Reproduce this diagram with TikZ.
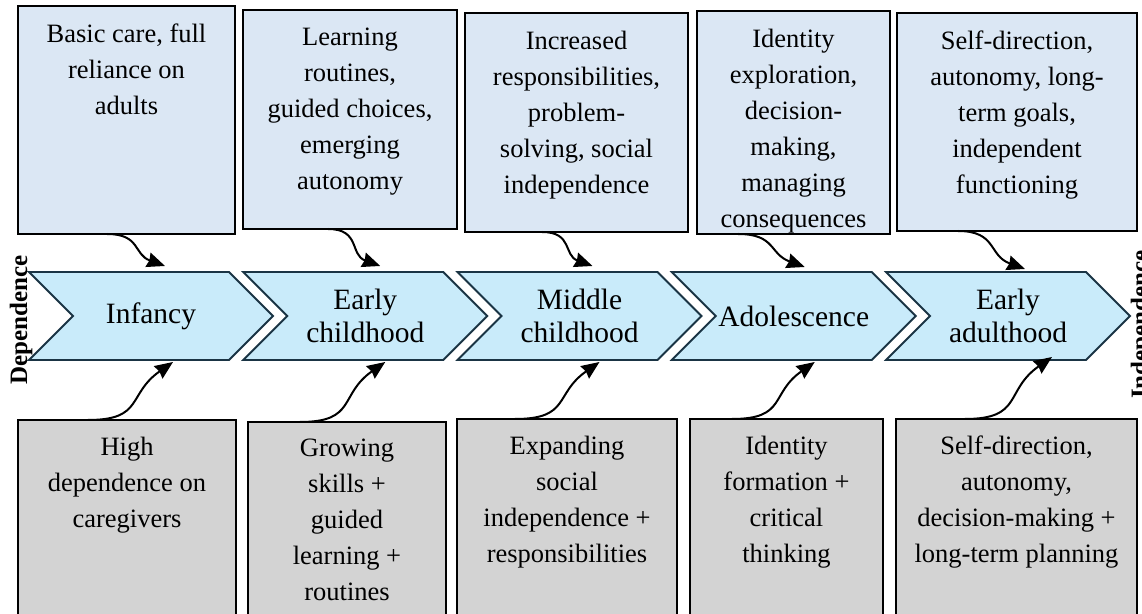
\documentclass[tikz,border=0pt]{standalone}
\usepackage{fontspec}
\setmainfont{Liberation Serif}
\usepackage{xcolor}
\usepackage{tikz}
\usetikzlibrary{calc,arrows.meta,shapes.symbols}
\definecolor{topfill}{HTML}{DBE7F4}
\definecolor{botfill}{HTML}{D3D3D3}
\definecolor{stagefill}{HTML}{C9EBFA}
\definecolor{stageline}{HTML}{1A3444}
\tikzset{
  topbox/.style={draw=black, fill=topfill, line width=2.2pt, anchor=north west, inner sep=0pt, outer sep=0pt},
  botbox/.style={draw=black, fill=botfill, line width=2.2pt, anchor=north west, inner sep=0pt, outer sep=0pt, minimum height=215pt},
  boxtxt/.style={anchor=north, align=center, inner sep=0pt, font=\fontsize{26.5}{36}\selectfont},
  stage/.style={signal, signal from=west, signal to=east, draw=stageline, fill=stagefill, line width=1.8pt,
    minimum width=244pt, minimum height=88pt, inner sep=0pt, outer sep=0pt, align=center,
    font=\fontsize{29.5}{33}\selectfont},
  side/.style={rotate=90, font=\bfseries\fontsize{25}{30}\selectfont, inner sep=0pt},
  flow/.style={draw=black, line width=2pt, -{Stealth[length=18pt,width=15pt,inset=1.5pt]}}
}
\begin{document}
\begin{tikzpicture}[x=1pt,y=1pt]
  \useasboundingbox (0,0) rectangle (1142,613);
  \clip (0,0) rectangle (1142,613);

  \node[topbox, minimum width=217pt, minimum height=228pt] (t1) at (18,607) {};
  \node[topbox, minimum width=214pt, minimum height=219pt] (t2) at (243,603) {};
  \node[topbox, minimum width=223pt, minimum height=219pt] (t3) at (465,600) {};
  \node[topbox, minimum width=193pt, minimum height=223pt] (t4) at (697,602) {};
  \node[topbox, minimum width=240pt, minimum height=218pt] (t5) at (897,600) {};

  \node[boxtxt] (t1txt) at ([yshift=-18pt]t1.north) {Basic care, full\\reliance on\\adults};
  \node[boxtxt] (t2txt) at ([yshift=-18pt]t2.north) {Learning\\routines,\\guided choices,\\emerging\\autonomy};
  \node[boxtxt] (t3txt) at ([yshift=-18pt]t3.north) {Increased\\responsibilities,\\problem-\\solving, social\\independence};
  \node[boxtxt] (t4txt) at ([yshift=-18pt]t4.north) {Identity\\exploration,\\decision-\\making,\\managing\\consequences};
  \node[boxtxt] (t5txt) at ([yshift=-18pt]t5.north) {Self-direction,\\autonomy, long-\\term goals,\\independent\\functioning};

  \node[stage] (c1) at (151,297) {Infancy};
  \node[stage] (c2) at (365.25,297) {Early\\childhood};
  \node[stage] (c3) at (579.5,297) {Middle\\childhood};
  \node[stage] (c4) at (793.75,297) {Adolescence};
  \node[stage] (c5) at (1008,297) {Early\\adulthood};

  \node[botbox, minimum width=218pt] (b1) at (18,193) {};
  \node[botbox, minimum width=198pt] (b2) at (248,191) {};
  \node[botbox, minimum width=220pt] (b3) at (457,194) {};
  \node[botbox, minimum width=193pt] (b4) at (690,194) {};
  \node[botbox, minimum width=241pt] (b5) at (896,194) {};

  \node[boxtxt] (b1txt) at ([yshift=-17pt]b1.north) {High\\dependence on\\caregivers};
  \node[boxtxt] (b2txt) at ([yshift=-17pt]b2.north) {Growing\\skills +\\guided\\learning +\\routines};
  \node[boxtxt] (b3txt) at ([yshift=-17pt]b3.north) {Expanding\\social\\independence +\\responsibilities};
  \node[boxtxt] (b4txt) at ([yshift=-17pt]b4.north) {Identity\\formation +\\critical\\thinking};
  \node[boxtxt] (b5txt) at ([yshift=-17pt]b5.north) {Self-direction,\\autonomy,\\decision-making +\\long-term planning};

  \node[side] (dep) at (21,293) {Dependence};
  \node[side] (indep) at (1142,288.5) {Independence};

  \draw[flow] ([xshift=89pt]t1.south west) to[out=0,in=160,looseness=1.3] ([xshift=14pt,yshift=6pt]c1.north);
  \draw[flow] ([xshift=85pt]t2.south west) to[out=0,in=160,looseness=1.3] ([xshift=15pt,yshift=6pt]c2.north);
  \draw[flow] ([xshift=77pt]t3.south west) to[out=0,in=160,looseness=1.3] ([xshift=13pt,yshift=6pt]c3.north);
  \draw[flow] ([xshift=41pt]t4.south west) to[out=0,in=160,looseness=1.3] ([xshift=11pt,yshift=5pt]c4.north);
  \draw[flow] ([xshift=61pt]t5.south west) to[out=0,in=160,looseness=1.3] ([xshift=17pt,yshift=3pt]c5.north);

  \draw[flow] ([xshift=70pt]b1.north west) to[out=0,in=215,looseness=1.4] ([xshift=22pt,yshift=-2pt]c1.south);
  \draw[flow] ([xshift=52pt]b2.north west) to[out=0,in=215,looseness=1.4] ([xshift=20pt,yshift=-2pt]c2.south);
  \draw[flow] ([xshift=58pt]b3.north west) to[out=0,in=215,looseness=1.4] ([xshift=20pt,yshift=-2pt]c3.south);
  \draw[flow] ([xshift=42pt]b4.north west) to[out=0,in=215,looseness=1.4] ([xshift=21pt,yshift=-2pt]c4.south);
  \draw[flow] ([xshift=69pt]b5.north west) to[out=0,in=215,looseness=1.4] ([xshift=44pt,yshift=3pt]c5.south);
\end{tikzpicture}
\end{document}
